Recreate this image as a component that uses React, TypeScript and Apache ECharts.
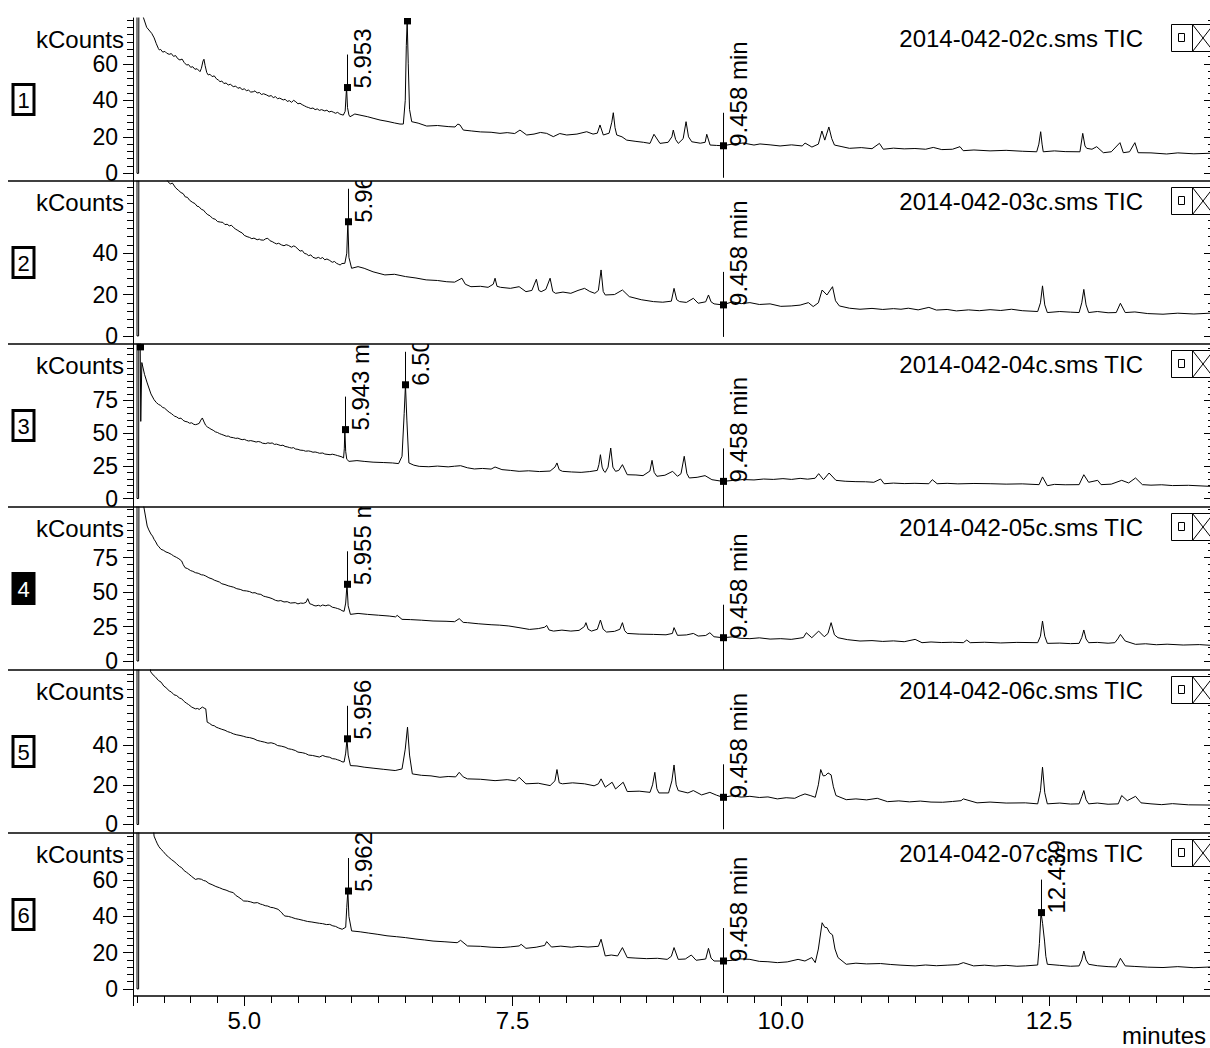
import React, { useEffect, useRef } from "react";
import * as echarts from "echarts";

const FONT = '"Liberation Sans", Arial, Helvetica, sans-serif';

// ---------- data ----------
const sampleTitles = [
  "2014-042-02c.sms TIC",
  "2014-042-03c.sms TIC",
  "2014-042-04c.sms TIC",
  "2014-042-05c.sms TIC",
  "2014-042-06c.sms TIC",
  "2014-042-07c.sms TIC",
];
const panelNumbers = ["1", "2", "3", "4", "5", "6"];
const selectedPanel = 3;

const trace1 = [
  [4.0, 200], [4.0, 0], [4.015, 0], [4.02, 200], [4.04, 110], [4.056, 86], [4.09, 80],
  [4.137, 76.7], [4.16, 74.2], [4.18, 71.0], [4.2, 68.3], [4.208, 67.6], [4.22, 67.9], [4.24, 66.4], [4.26, 66.8], [4.277, 65.8], [4.3, 65.2], [4.32, 65.6], [4.34, 64.1], [4.36, 64.5], [4.38, 62.8], [4.4, 62.1], [4.42, 62.6], [4.44, 60.7], [4.463, 59.3], [4.48, 59.6], [4.5, 58.1], [4.52, 58.4], [4.54, 57.0], [4.56, 57.3], [4.587, 55.7], [4.6, 57.5], [4.615, 61.5], [4.624, 62.5], [4.635, 59], [4.65, 55.2], [4.664, 53.9], [4.68, 54.3], [4.7, 53.0], [4.72, 53.4], [4.74, 51.8], [4.76, 51.0], [4.774, 50.2], [4.79, 50.6], [4.81, 49.2], [4.83, 49.5], [4.85, 48.4], [4.87, 48.8], [4.897, 47.5], [4.92, 47.8], [4.94, 46.6], [4.96, 47.0], [4.98, 45.9], [5.0, 46.3], [5.02, 45.3], [5.04, 45.6], [5.06, 44.5], [5.084, 44.7], [5.1, 45.2], [5.12, 44.0], [5.14, 44.3], [5.16, 43.2], [5.18, 43.6], [5.209, 42.9], [5.23, 42.2], [5.25, 42.6], [5.27, 41.5], [5.29, 42.0], [5.31, 40.9], [5.33, 41.2], [5.363, 40.2], [5.38, 40.6], [5.4, 39.4], [5.42, 39.8], [5.44, 38.9], [5.46, 40.0], [5.48, 39.2], [5.5, 38.1], [5.519, 38.4], [5.54, 37.6], [5.56, 37.0], [5.58, 36.4], [5.6, 36.0], [5.62, 35.5], [5.64, 35.8], [5.66, 34.9], [5.68, 35.3], [5.7, 34.5], [5.72, 34.9], [5.75, 34.2], [5.77, 34.6], [5.79, 33.6], [5.81, 34.0], [5.83, 33.5], [5.85, 32.9], [5.87, 33.4], [5.89, 32.5], [5.91, 32.1], [5.923, 31.9],
  [5.94, 34], [5.953, 47], [5.962, 36], [5.975, 32], [5.985, 31.0], [6.03, 32.5], [6.078, 31.9], [6.15, 31], [6.2, 30.2], [6.265, 29.2], [6.33, 28.5], [6.4, 27.6], [6.451, 27.0], [6.482, 27.0], [6.5, 40], [6.51, 70], [6.518, 83.5], [6.528, 60], [6.54, 35], [6.56, 28.3], [6.62, 27.5], [6.7, 25.9], [6.8, 26.2], [6.9, 25.6], [6.964, 25.4], [6.99, 27], [7.01, 26.5], [7.041, 23.7], [7.12, 23.2], [7.2, 22.7], [7.3, 22.5], [7.383, 21.9], [7.45, 22.3], [7.52, 21.8], [7.569, 23.7], [7.632, 21.0], [7.7, 21.5], [7.76, 22.4], [7.818, 21.9], [7.88, 20.1], [7.94, 21.8], [8.005, 21.0], [8.1, 21.5], [8.191, 22.8], [8.25, 21.5], [8.29, 22], [8.315, 26.5], [8.346, 21.0], [8.4, 22], [8.425, 28], [8.439, 33.2], [8.455, 25], [8.471, 21.0], [8.52, 20], [8.564, 18.2], [8.65, 17.5], [8.72, 17], [8.781, 16.4], [8.818, 21.4], [8.874, 16.4], [8.95, 17], [8.985, 20], [8.998, 23.7], [9.02, 18.5], [9.045, 16.4], [9.09, 19], [9.117, 28.3], [9.14, 20], [9.17, 17.3], [9.25, 16.5], [9.295, 17], [9.31, 21.4], [9.341, 15.5], [9.4, 15.3], [9.458, 15.1], [9.557, 16.1], [9.65, 16.6], [9.75, 15.5], [9.806, 16.1], [9.9, 15.6], [9.993, 15.0], [10.1, 15.6], [10.2, 15.0], [10.226, 16.6], [10.29, 14.4], [10.35, 16], [10.383, 23.2], [10.41, 18.2], [10.448, 25.4], [10.475, 19], [10.5, 15.5], [10.57, 14.6], [10.64, 13.7], [10.75, 14.1], [10.85, 13.5], [10.919, 16.4], [10.955, 13.2], [11.05, 13.8], [11.15, 13.4], [11.25, 13.6], [11.35, 13.2], [11.421, 14.2], [11.5, 13], [11.6, 13.2], [11.67, 14.6], [11.7, 12.4], [11.8, 12.8], [11.95, 12.3], [12.1, 12.6], [12.25, 12.1], [12.385, 11.8], [12.405, 16], [12.422, 22.8], [12.435, 16], [12.446, 11.8], [12.55, 12.3], [12.65, 11.9], [12.788, 11.8], [12.814, 21.9], [12.835, 15], [12.851, 13.7], [12.9, 13.2], [12.944, 14.6], [13.006, 11.3], [13.08, 11.8], [13.161, 16.8], [13.192, 11.3], [13.25, 11.8], [13.3, 16.8], [13.33, 11.3], [13.45, 11.2], [13.596, 10.6], [13.7, 11.2], [13.85, 10.7], [14.0, 11.0],
];

const trace2 = [
  [4.0, 200], [4.0, 0], [4.015, 0], [4.02, 200], [4.15, 95], [4.26, 77],
  [4.288, 74.6], [4.31, 73.5], [4.33, 73.9], [4.36, 71.6], [4.384, 70.5], [4.41, 69.3], [4.43, 68.8], [4.45, 67.2], [4.47, 67.0], [4.49, 65.6], [4.52, 64.5], [4.54, 64.0], [4.56, 62.7], [4.577, 62.5], [4.6, 61.2], [4.62, 60.8], [4.64, 59.5], [4.66, 58.6], [4.68, 58.1], [4.705, 56.8], [4.73, 56.4], [4.75, 55.3], [4.78, 55.0], [4.8, 54.9], [4.82, 53.8], [4.84, 54.0], [4.86, 53.2], [4.88, 53.5], [4.898, 52.5], [4.92, 51.6], [4.94, 51.0], [4.96, 50.3], [4.98, 49.8], [5.0, 48.6], [5.026, 48.0], [5.05, 47.6], [5.07, 47.0], [5.09, 47.3], [5.12, 46.5], [5.14, 46.8], [5.154, 46.4], [5.18, 46.3], [5.2, 47.0], [5.219, 47.2], [5.24, 46.0], [5.26, 45.6], [5.28, 45.0], [5.3, 44.5], [5.32, 44.8], [5.347, 44.0], [5.37, 43.6], [5.39, 44.1], [5.41, 43.8], [5.44, 42.9], [5.46, 43.5], [5.475, 43.2], [5.5, 42.0], [5.52, 41.0], [5.54, 41.3], [5.56, 39.9], [5.58, 39.6], [5.6, 38.8], [5.62, 39.2], [5.64, 38.0], [5.668, 37.5], [5.69, 38.0], [5.71, 37.4], [5.73, 37.9], [5.75, 36.8], [5.77, 37.2], [5.796, 36.5], [5.82, 35.6], [5.84, 36.0], [5.86, 35.1], [5.88, 34.6], [5.893, 34.3], [5.91, 35.0], [5.937, 35.1],
  [5.955, 40], [5.965, 55.2], [5.975, 38], [6.0, 32.7], [6.06, 33.5], [6.117, 32.7], [6.2, 31], [6.31, 29.5], [6.4, 29.8], [6.502, 28.7], [6.6, 28], [6.695, 27.1], [6.8, 26.8], [6.887, 26.2], [6.96, 26], [7.028, 27.9], [7.06, 25], [7.112, 23.8], [7.2, 24], [7.272, 23.5], [7.32, 25], [7.337, 27.9], [7.355, 24], [7.388, 23.5], [7.48, 23], [7.561, 23.8], [7.625, 21.4], [7.68, 22], [7.722, 27.4], [7.745, 22], [7.767, 21.4], [7.81, 22.5], [7.85, 27.9], [7.875, 21.5], [7.901, 20.6], [7.97, 21.2], [8.043, 20.6], [8.11, 22], [8.171, 23.0], [8.22, 21.5], [8.267, 20.6], [8.3, 22], [8.325, 31.9], [8.345, 21.5], [8.364, 19.8], [8.45, 20], [8.524, 22.2], [8.588, 19.0], [8.7, 17.5], [8.813, 16.6], [8.9, 16.3], [8.98, 16.8], [9.005, 23.0], [9.03, 17.5], [9.057, 16.6], [9.12, 16.2], [9.185, 18.2], [9.23, 15.8], [9.3, 16.5], [9.326, 19.8], [9.35, 16.5], [9.378, 15.5], [9.458, 15.0], [9.55, 16.5], [9.63, 15.6], [9.712, 16.1], [9.8, 15.2], [9.9, 15.5], [10.0, 14.3], [10.097, 14.5], [10.18, 14.9], [10.257, 16.1], [10.302, 14.2], [10.35, 16], [10.385, 22.2], [10.43, 19.8], [10.482, 23.8], [10.51, 17], [10.546, 14.5], [10.64, 13.4], [10.738, 12.9], [10.85, 13.3], [10.95, 12.8], [11.05, 13.2], [11.12, 12.9], [11.188, 13.4], [11.28, 12.6], [11.38, 13.8], [11.45, 12.5], [11.55, 12.8], [11.637, 12.1], [11.75, 12.6], [11.85, 12.2], [11.95, 12.7], [12.05, 12.3], [12.15, 12.9], [12.25, 12.2], [12.394, 11.8], [12.42, 16], [12.439, 24.2], [12.46, 15], [12.484, 11.3], [12.6, 11.8], [12.7, 11.5], [12.78, 11.3], [12.805, 16], [12.824, 22.5], [12.845, 15], [12.869, 11.3], [12.95, 11.8], [13.05, 11.2], [13.126, 11.3], [13.165, 15.8], [13.21, 11.3], [13.3, 11.6], [13.42, 10.8], [13.562, 10.5], [13.7, 11], [13.85, 10.6], [14.0, 11.0],
];

const trace3 = [
  [4.0, 300], [4.0, 0], [4.015, 0], [4.02, 300], [4.03, 116], [4.035, 59], [4.045, 104], [4.05, 103.7], [4.07, 95], [4.095, 88.4], [4.13, 80],
  [4.159, 75.6], [4.18, 73.4], [4.2, 72.0], [4.22, 71.2], [4.24, 69.6], [4.256, 69.2], [4.28, 67.4], [4.3, 66.0], [4.32, 65.0], [4.34, 63.6], [4.352, 62.9], [4.37, 62.4], [4.39, 61.2], [4.41, 61.5], [4.43, 59.8], [4.448, 59.0], [4.47, 58.6], [4.49, 57.6], [4.51, 57.9], [4.53, 56.7], [4.545, 56.5], [4.56, 56.8], [4.58, 57.5], [4.595, 60], [4.609, 61.6], [4.625, 58.5], [4.64, 56], [4.655, 54.8], [4.673, 53.9], [4.69, 53.0], [4.71, 52.2], [4.73, 51.0], [4.75, 50.5], [4.77, 49.6], [4.79, 49.0], [4.81, 48.4], [4.833, 47.6], [4.85, 47.8], [4.87, 46.9], [4.9, 46.5], [4.92, 46.0], [4.94, 46.2], [4.96, 45.5], [4.98, 45.0], [5.0, 45.3], [5.02, 44.5], [5.04, 44.0], [5.06, 44.3], [5.09, 43.7], [5.11, 43.2], [5.13, 43.6], [5.15, 43.2], [5.17, 42.3], [5.2, 42.0], [5.22, 42.6], [5.24, 42.2], [5.26, 42.5], [5.28, 41.4], [5.3, 41.6], [5.315, 41.2], [5.34, 40.5], [5.36, 40.8], [5.38, 39.8], [5.4, 39.5], [5.42, 39.0], [5.44, 38.6], [5.46, 38.9], [5.475, 37.9], [5.5, 37.6], [5.52, 37.0], [5.55, 36.8], [5.57, 36.2], [5.6, 36.4], [5.62, 36.0], [5.64, 35.4], [5.66, 35.6], [5.68, 35.2], [5.7, 34.6], [5.732, 34.8], [5.75, 34.0], [5.78, 33.7], [5.8, 33.5], [5.82, 33.9], [5.85, 33.3], [5.87, 32.8], [5.892, 32.3], [5.91, 31.8], [5.925, 31],
  [5.932, 38], [5.937, 52.7], [5.945, 36], [5.955, 30], [5.976, 28.4], [6.05, 29], [6.117, 28.4], [6.2, 27.8], [6.3, 27.5], [6.38, 27.2], [6.438, 26.7], [6.47, 32.3], [6.49, 65], [6.502, 87], [6.515, 60], [6.534, 27.2], [6.58, 25.5], [6.63, 24.6], [6.72, 24.3], [6.8, 24.8], [6.9, 24.2], [6.96, 24.7], [7.016, 25.1], [7.08, 23.5], [7.144, 22.6], [7.22, 23], [7.3, 22.5], [7.337, 24.1], [7.401, 22.1], [7.48, 21.5], [7.561, 20.8], [7.65, 21.2], [7.75, 20.6], [7.85, 21], [7.895, 24], [7.914, 27.2], [7.935, 22], [7.965, 20.8], [8.05, 20.3], [8.139, 20.0], [8.22, 20.6], [8.29, 21.5], [8.305, 26], [8.319, 33.5], [8.335, 24], [8.35, 21], [8.364, 20.0], [8.39, 24], [8.415, 38.6], [8.435, 24], [8.46, 20.8], [8.49, 21.5], [8.524, 25.9], [8.569, 18.2], [8.65, 18], [8.716, 17.5], [8.78, 21], [8.8, 29.2], [8.82, 20], [8.845, 17.0], [8.92, 17.8], [8.992, 20.8], [9.037, 17.0], [9.07, 19], [9.1, 32.3], [9.125, 19], [9.147, 15.7], [9.22, 16.2], [9.294, 17.5], [9.358, 14.4], [9.458, 13.1], [9.55, 13.8], [9.65, 14.5], [9.75, 14.2], [9.84, 14.9], [9.93, 14.6], [10.02, 15.2], [10.1, 14.6], [10.18, 15.4], [10.25, 14.8], [10.32, 15.5], [10.353, 19.0], [10.398, 14.4], [10.45, 19.5], [10.514, 13.9], [10.6, 13.2], [10.7, 12.9], [10.79, 12.8], [10.867, 12.4], [10.93, 14.9], [10.963, 11.3], [11.05, 11.8], [11.15, 11.4], [11.25, 11.6], [11.38, 11.3], [11.412, 14.4], [11.457, 11.3], [11.55, 11.6], [11.65, 11.2], [11.8, 11.5], [11.958, 11.3], [12.1, 11.0], [12.25, 11.2], [12.407, 10.6], [12.439, 16.5], [12.484, 9.8], [12.55, 10.8], [12.65, 10.5], [12.78, 10.6], [12.824, 18.2], [12.869, 12.4], [12.953, 13.9], [12.985, 10.6], [13.08, 11.0], [13.177, 13.9], [13.242, 11.9], [13.306, 15.7], [13.37, 10.6], [13.45, 10.2], [13.55, 10.5], [13.65, 9.9], [13.8, 10.1], [14.0, 9.3],
];

const trace4 = [
  [4.0, 200], [4.0, 0], [4.015, 0], [4.02, 200], [4.063, 112],
  [4.095, 97.8], [4.11, 95], [4.13, 92], [4.145, 90.5], [4.159, 88.2], [4.175, 86.3], [4.19, 84], [4.205, 82.7], [4.224, 80.9], [4.245, 80.3], [4.27, 79], [4.29, 78.5], [4.32, 77.3], [4.34, 76.2], [4.37, 75], [4.39, 74.1], [4.416, 72.5], [4.43, 70.0], [4.448, 67.6], [4.47, 67.0], [4.5, 65.5], [4.52, 65.0], [4.545, 64.0], [4.57, 63.6], [4.6, 62.5], [4.62, 62.3], [4.641, 61.6], [4.67, 60.3], [4.7, 59.5], [4.72, 58.6], [4.745, 57.9], [4.769, 57.2], [4.79, 56.0], [4.82, 55.4], [4.85, 54.5], [4.875, 54.0], [4.9, 53.5], [4.93, 52.4], [4.962, 51.9], [4.99, 51.0], [5.02, 50.8], [5.05, 50.3], [5.075, 49.4], [5.1, 49.5], [5.125, 48.6], [5.154, 48.3], [5.18, 47.0], [5.2, 46.6], [5.23, 46.0], [5.26, 45.2], [5.29, 44.0], [5.315, 43.5], [5.34, 43.8], [5.37, 42.8], [5.4, 43.0], [5.43, 42.0], [5.475, 42.3], [5.5, 41.4], [5.525, 42.0], [5.55, 41.8], [5.575, 42.5], [5.591, 45.2], [5.61, 41.5], [5.63, 41.0], [5.65, 40.2], [5.668, 39.9], [5.69, 40.4], [5.71, 39.8], [5.73, 40.6], [5.76, 40.0], [5.78, 40.6], [5.796, 40.3], [5.82, 39.0], [5.85, 38.5], [5.87, 38.0], [5.893, 37.4], [5.91, 36.5], [5.93, 36],
  [5.945, 42], [5.957, 55.6], [5.968, 40], [5.989, 33.8], [6.06, 34.5], [6.149, 33.8], [6.25, 33.2], [6.35, 32.6], [6.41, 32], [6.425, 33.1], [6.47, 30.2], [6.55, 30], [6.65, 29.6], [6.759, 29.0], [6.88, 28.8], [6.96, 28.5], [7.003, 30.7], [7.04, 28], [7.08, 27.8], [7.18, 27], [7.3, 26.3], [7.38, 26], [7.465, 25.4], [7.56, 24.2], [7.658, 22.9], [7.74, 23.5], [7.8, 24.5], [7.818, 25.8], [7.84, 22.5], [7.882, 21.7], [7.96, 22.4], [8.043, 21.7], [8.12, 22.2], [8.17, 25], [8.184, 27.8], [8.205, 23], [8.235, 21.7], [8.29, 23], [8.319, 29.7], [8.345, 23], [8.376, 21.0], [8.45, 21.5], [8.5, 23], [8.524, 27.8], [8.545, 22], [8.569, 20.0], [8.68, 19.5], [8.813, 19.3], [8.93, 19], [8.99, 20], [9.005, 24.2], [9.037, 18.6], [9.12, 18.9], [9.185, 20.0], [9.23, 18.1], [9.3, 18.5], [9.339, 20.5], [9.378, 17.6], [9.458, 16.9], [9.55, 17.5], [9.62, 16.5], [9.712, 16.2], [9.8, 16.8], [9.9, 15.9], [10.0, 16.2], [10.097, 15.7], [10.17, 16.5], [10.21, 17], [10.238, 20.5], [10.289, 16.9], [10.353, 21.7], [10.405, 17.6], [10.44, 20], [10.469, 27.8], [10.5, 19], [10.533, 16.9], [10.62, 15.5], [10.738, 14.5], [10.85, 14.8], [10.95, 14.2], [11.05, 14.6], [11.15, 14.0], [11.252, 15.7], [11.316, 13.3], [11.4, 13.8], [11.5, 13.4], [11.6, 13.6], [11.701, 13.3], [11.733, 15.2], [11.765, 13.3], [11.9, 13.6], [12.05, 13.1], [12.2, 13.5], [12.394, 13.3], [12.42, 18], [12.439, 29.0], [12.46, 18], [12.484, 12.8], [12.6, 13], [12.7, 12.6], [12.78, 12.8], [12.805, 17], [12.824, 22.5], [12.845, 16], [12.869, 13.3], [12.95, 13.5], [13.05, 12.9], [13.113, 13.3], [13.14, 16], [13.165, 19.3], [13.21, 14.5], [13.306, 12.1], [13.4, 12.5], [13.5, 11.8], [13.6, 12.2], [13.75, 11.6], [13.9, 11.9], [14.0, 11.4],
];

const trace5 = [
  [4.0, 200], [4.0, 0], [4.015, 0], [4.02, 200],
  [4.127, 77], [4.15, 75.4], [4.17, 74.5], [4.2, 72.6], [4.224, 71.8], [4.25, 69.8], [4.27, 69], [4.3, 67.4], [4.32, 66.8], [4.345, 65.4], [4.37, 65], [4.395, 63.8], [4.416, 63.4], [4.44, 62.0], [4.46, 61.2], [4.48, 60.5], [4.51, 59.2], [4.545, 58.3], [4.565, 58.5], [4.58, 58], [4.609, 59.2], [4.625, 58.7], [4.641, 58.3], [4.654, 51.6], [4.675, 51.0], [4.7, 50], [4.72, 49.8], [4.737, 49.1], [4.76, 48.6], [4.79, 48.0], [4.82, 47.5], [4.845, 46.8], [4.87, 46.4], [4.898, 45.7], [4.93, 45.2], [4.96, 44.9], [4.99, 44.5], [5.02, 44.0], [5.05, 43.8], [5.09, 43.2], [5.12, 42.4], [5.15, 42.0], [5.19, 41.5], [5.22, 41.0], [5.25, 41.2], [5.283, 40.7], [5.31, 39.8], [5.345, 39.5], [5.38, 39], [5.41, 38.2], [5.44, 37.9], [5.475, 37.3], [5.5, 36.5], [5.54, 36.2], [5.57, 35.8], [5.6, 35.0], [5.635, 34.8], [5.668, 34.4], [5.7, 34.0], [5.73, 34.8], [5.76, 34.2], [5.796, 33.9], [5.82, 33.2], [5.85, 33], [5.87, 32.6], [5.893, 32.2], [5.91, 31.6], [5.93, 31.5],
  [5.945, 36], [5.957, 43.2], [5.968, 35], [5.989, 29.7], [6.05, 29.5], [6.117, 28.9], [6.2, 28.4], [6.3, 27.8], [6.406, 27.2], [6.47, 28.0], [6.5, 38], [6.521, 49.1], [6.54, 35], [6.566, 25.5], [6.65, 24.8], [6.74, 24.5], [6.823, 23.8], [6.9, 24.2], [6.97, 24], [7.003, 26.3], [7.04, 24], [7.08, 23.0], [7.2, 22.8], [7.337, 22.1], [7.45, 22.6], [7.53, 22], [7.561, 23.8], [7.625, 20.5], [7.74, 20.8], [7.85, 19.6], [7.895, 22], [7.914, 27.7], [7.935, 21], [7.965, 20.5], [8.06, 21], [8.171, 20.5], [8.26, 19.5], [8.3, 20.5], [8.325, 23.0], [8.364, 18.8], [8.428, 21.3], [8.46, 17.9], [8.531, 21.3], [8.569, 16.6], [8.68, 16.8], [8.781, 16.2], [8.805, 20], [8.826, 26.3], [8.845, 18], [8.864, 15.9], [8.954, 15.9], [8.985, 22], [9.005, 30.0], [9.025, 20], [9.044, 17.1], [9.134, 15.9], [9.185, 17.1], [9.262, 14.9], [9.339, 16.2], [9.4, 14.8], [9.458, 13.7], [9.55, 14.5], [9.63, 13.8], [9.712, 14.2], [9.8, 13.6], [9.88, 13.9], [9.968, 12.9], [10.05, 13.5], [10.13, 13.2], [10.18, 14.5], [10.225, 15.4], [10.28, 14.5], [10.321, 13.7], [10.35, 20], [10.372, 27.7], [10.395, 24.5], [10.417, 24.7], [10.44, 26], [10.469, 25.0], [10.49, 19], [10.514, 14.6], [10.61, 12.5], [10.7, 12.9], [10.8, 12.4], [10.899, 13.2], [10.995, 11.5], [11.1, 11.9], [11.2, 11.4], [11.3, 11.8], [11.4, 11.3], [11.509, 11.2], [11.6, 11.6], [11.68, 12], [11.701, 12.9], [11.829, 10.9], [11.95, 11.3], [12.1, 10.8], [12.279, 10.9], [12.394, 10.4], [12.42, 17], [12.439, 28.9], [12.46, 16], [12.484, 10.4], [12.6, 10.8], [12.7, 10.3], [12.78, 10.4], [12.805, 14], [12.824, 17.1], [12.845, 12.5], [12.869, 10.4], [12.95, 10.8], [13.05, 10.2], [13.145, 10.4], [13.177, 14.6], [13.229, 12.0], [13.306, 14.2], [13.357, 10.9], [13.45, 10.4], [13.55, 10.0], [13.65, 10.5], [13.8, 9.9], [14.0, 9.8],
];

const trace6 = [
  [4.0, 200], [4.0, 0], [4.015, 0], [4.02, 200],
  [4.159, 84.3], [4.175, 82.0], [4.19, 80], [4.205, 78.4], [4.224, 77.0], [4.245, 75.8], [4.27, 74], [4.295, 72.7], [4.32, 71.4], [4.345, 70.3], [4.37, 69], [4.395, 67.6], [4.416, 66.9], [4.44, 65.2], [4.46, 64.4], [4.48, 63.5], [4.51, 62.0], [4.545, 60.4], [4.57, 60.8], [4.6, 60.5], [4.62, 59.8], [4.641, 59.5], [4.67, 58.2], [4.7, 57.5], [4.735, 56.5], [4.769, 55.8], [4.8, 55.0], [4.83, 54.5], [4.865, 53.6], [4.898, 53.1], [4.92, 51.6], [4.95, 50.5], [4.975, 49.4], [4.994, 48.5], [5.03, 48.4], [5.06, 48], [5.09, 47.4], [5.122, 47.6], [5.15, 46.8], [5.17, 46.5], [5.195, 45.9], [5.219, 45.7], [5.245, 45.0], [5.27, 44.8], [5.295, 44.3], [5.315, 43.9], [5.335, 42.8], [5.35, 42], [5.365, 40.8], [5.379, 40.2], [5.41, 40.0], [5.44, 39.5], [5.475, 38.8], [5.508, 38.4], [5.55, 37.8], [5.59, 37.2], [5.63, 36.9], [5.668, 36.5], [5.7, 36.2], [5.73, 36], [5.765, 35.5], [5.796, 35.6], [5.825, 34.8], [5.85, 34.5], [5.88, 33.6], [5.912, 32.9],
  [5.945, 34], [5.955, 45], [5.965, 54.0], [5.975, 40], [6.0, 32.0], [6.08, 31.5], [6.16, 30.8], [6.245, 30.1], [6.33, 29.3], [6.42, 28.8], [6.502, 28.3], [6.6, 27.5], [6.68, 27], [6.759, 26.4], [6.87, 26], [6.984, 25.5], [7.016, 26.8], [7.08, 23.7], [7.2, 23.5], [7.3, 23], [7.401, 22.8], [7.48, 23.2], [7.561, 23.7], [7.58, 24.6], [7.625, 22.4], [7.72, 23], [7.8, 24], [7.818, 26.1], [7.863, 23.1], [7.95, 23.6], [8.05, 23], [8.12, 23.5], [8.203, 23.1], [8.3, 23.5], [8.325, 27.4], [8.364, 18.2], [8.42, 18.7], [8.479, 18.2], [8.524, 22.8], [8.569, 17.3], [8.65, 17], [8.75, 16.7], [8.85, 16.9], [8.941, 16.3], [8.98, 18], [9.005, 22.8], [9.044, 16.3], [9.11, 16.5], [9.166, 18.7], [9.211, 15.8], [9.3, 16.5], [9.326, 22.4], [9.35, 17], [9.378, 15.4], [9.458, 15.4], [9.55, 15.8], [9.62, 16.6], [9.712, 16.3], [9.8, 15.2], [9.88, 15.0], [9.968, 14.5], [10.06, 14.9], [10.161, 16.3], [10.225, 15.4], [10.289, 17.3], [10.321, 14.5], [10.35, 22], [10.385, 36.5], [10.41, 34], [10.43, 33.8], [10.455, 31], [10.482, 29.8], [10.505, 22], [10.533, 17.3], [10.61, 13.6], [10.7, 14.2], [10.8, 13.8], [10.93, 14.0], [11.02, 13.5], [11.12, 13.1], [11.252, 12.7], [11.35, 13.2], [11.45, 12.8], [11.55, 13.1], [11.65, 13.4], [11.701, 14.5], [11.797, 12.7], [11.9, 13.1], [12.0, 12.6], [12.1, 13.0], [12.2, 12.5], [12.279, 12.7], [12.394, 13.2], [12.41, 25], [12.425, 42.1], [12.44, 36], [12.458, 26.4], [12.47, 18], [12.484, 13.6], [12.6, 13], [12.7, 12.5], [12.78, 12.7], [12.805, 16], [12.824, 20.9], [12.845, 16], [12.869, 13.6], [12.95, 12.8], [13.05, 12.3], [13.126, 12.1], [13.165, 16.9], [13.21, 12.7], [13.3, 12.4], [13.42, 12.0], [13.562, 11.8], [13.7, 12.3], [13.85, 11.7], [14.0, 12.1],
];

const traces = [trace1, trace2, trace3, trace4, trace5, trace6];

// axis ranges (kCounts)
const yMins = [-4.2, -3.9, -6.5, -6.5, -4.3, -3.9];
const yMaxs = [85.1, 74.9, 118.2, 111.6, 77.9, 86.0];
const yTickLabels = [
  [0, 20, 40, 60],
  [0, 20, 40],
  [0, 25, 50, 75],
  [0, 25, 50, 75],
  [0, 20, 40],
  [0, 20, 40, 60],
];
const yMinorSteps = [4, 4, 5, 5, 4, 4];
const xMin = 4.0;
const xMax = 14.0;
const xTickLabels = [5.0, 7.5, 10.0, 12.5];
const xMinorStep = 0.25;

// peak annotations
const peakTimes = [[5.953, 6.518], [5.965], [4.03, 5.937, 6.502], [5.957], [5.957], [5.965, 12.425]];
const peakHeights = [[47, 83.5], [55.2], [116, 52.7, 87], [55.6], [43.2], [54.0, 42.1]];
const peakLabels = [
  ["5.953", ""],
  ["5.965 min"],
  ["", "5.943 min", "6.502 min"],
  ["5.955 min"],
  ["5.956"],
  ["5.962", "12.439"],
];
const cursorTime = 9.458;
const cursorHeights = [15.1, 15.0, 13.1, 16.9, 13.7, 15.4];
const cursorLabel = "9.458 min";

// ---------- layout ----------
const W = 1210;
const H = 1048;
const GRID_LEFT = 137;
const PANEL_TOP = 18;
const PANEL_H = 163;

function buildOption() {
  const grid: any[] = [];
  const xAxis: any[] = [];
  const yAxis: any[] = [];
  const series: any[] = [];
  const graphic: any[] = [];
  const tickStyle = { color: "#000", width: 1 };

  for (let k = 0; k < 6; k++) {
    const top = PANEL_TOP + k * PANEL_H;
    grid.push({ left: GRID_LEFT, right: 0, top, height: PANEL_H });

    const xi = xAxis.length;
    xAxis.push({
      gridIndex: k,
      type: "value",
      position: "bottom",
      min: xMin,
      max: xMax,
      axisLine: { show: false, onZero: false },
      splitLine: { show: false },
      axisTick: { show: false },
      axisLabel: { show: false },
    });

    const minorY: number[] = [];
    for (let i = 0; i * yMinorSteps[k] <= yMaxs[k]; i++) minorY.push(i * yMinorSteps[k]);
    const base = { gridIndex: k, type: "value", min: yMins[k], max: yMaxs[k], splitLine: { show: false } };
    const yi = yAxis.length;
    yAxis.push({
      ...base,
      position: "left",
      offset: 4,
      axisLine: { show: true, onZero: false, lineStyle: { color: "#000", width: 1 } },
      axisTick: { customValues: minorY, length: 6, lineStyle: tickStyle },
      axisLabel: { customValues: yTickLabels[k], margin: 15, color: "#000", fontSize: 23, fontFamily: FONT },
    });
    yAxis.push({
      ...base,
      position: "left",
      offset: 4,
      axisLine: { show: false, onZero: false },
      axisTick: { customValues: yTickLabels[k], length: 10, lineStyle: tickStyle },
      axisLabel: { show: false },
    });
    yAxis.push({
      ...base,
      position: "right",
      axisLine: { show: false, onZero: false },
      axisTick: { inside: true, customValues: yTickLabels[k], length: 6, lineStyle: tickStyle },
      axisLabel: { show: false },
    });
    yAxis.push({
      ...base,
      position: "right",
      axisLine: { show: false, onZero: false },
      axisTick: { inside: true, customValues: minorY, length: 2, lineStyle: tickStyle },
      axisLabel: { show: false },
    });

    series.push({
      type: "line",
      xAxisIndex: xi,
      yAxisIndex: yi,
      data: traces[k],
      symbol: "none",
      showSymbol: false,
      clip: true,
      silent: true,
      lineStyle: { color: "#000", width: 1 },
      z: 2,
    });

    const annData = peakTimes[k].map((t, i) => [t, peakHeights[k][i], 0]);
    annData.push([cursorTime, cursorHeights[k], 1]);
    const annLabels = [...peakLabels[k], cursorLabel];
    series.push({
      type: "custom",
      xAxisIndex: xi,
      yAxisIndex: yi,
      data: annData,
      encode: { x: 0, y: 1 },
      clip: true,
      silent: true,
      z: 5,
      renderItem: (params: any, api: any) => {
        const t = api.value(0);
        const v = api.value(1);
        const kind = api.value(2);
        const p = api.coord([t, v]);
        const px = Math.round(p[0]) + 0.5;
        const label = annLabels[params.dataIndex];
        const children: any[] = [
          {
            type: "line",
            shape: { x1: px, y1: p[1] - 33, x2: px, y2: kind === 1 ? p[1] + 32 : p[1] },
            style: { stroke: "#000", lineWidth: 1 },
          },
          {
            type: "rect",
            shape: { x: px - 3.5, y: p[1] - 3.5, width: 7, height: 7 },
            style: { fill: "#000" },
          },
        ];
        if (label) {
          children.push({
            type: "text",
            x: px + 15,
            y: p[1] + 1,
            rotation: Math.PI / 2,
            style: {
              text: label,
              fill: "#000",
              font: `24px ${FONT}`,
              textAlign: "left",
              textVerticalAlign: "middle",
            },
          });
        }
        return { type: "group", children };
      },
    });

    // decorations per panel
    if (k < 5) {
      graphic.push({
        type: "line",
        shape: { x1: 8, y1: top + PANEL_H, x2: W, y2: top + PANEL_H },
        style: { stroke: "#000", lineWidth: 1.5 },
        z: 10,
      });
    }
    const cy = top + PANEL_H / 2;
    const sel = k === selectedPanel;
    graphic.push({
      type: "rect",
      shape: { x: 13, y: cy - 15, width: 21, height: 30 },
      style: { fill: sel ? "#000" : "#fff", stroke: "#000", lineWidth: 3 },
      z: 10,
    });
    graphic.push({
      type: "text",
      x: 23.5,
      y: cy + 1,
      style: {
        text: panelNumbers[k],
        fill: sel ? "#fff" : "#000",
        font: `22px ${FONT}`,
        textAlign: "center",
        textVerticalAlign: "middle",
      },
      z: 11,
    });
    graphic.push({
      type: "text",
      x: 124,
      y: top + 21,
      style: { text: "kCounts", fill: "#000", font: `24px ${FONT}`, textAlign: "right", textVerticalAlign: "middle" },
      z: 10,
    });
    graphic.push({
      type: "text",
      x: 1143,
      y: top + 20,
      style: { text: sampleTitles[k], fill: "#000", font: `24px ${FONT}`, textAlign: "right", textVerticalAlign: "middle" },
      z: 10,
    });
    // window icons
    graphic.push({
      type: "rect",
      shape: { x: 1171.5, y: top + 6.5, width: 21, height: 27 },
      style: { fill: "#fff", stroke: "#000", lineWidth: 1 },
      z: 10,
    });
    graphic.push({
      type: "rect",
      shape: { x: 1178.5, y: top + 15.5, width: 6, height: 8 },
      style: { fill: "#fff", stroke: "#000", lineWidth: 1 },
      z: 11,
    });
    graphic.push({
      type: "rect",
      shape: { x: 1192.5, y: top + 6.5, width: 21, height: 27 },
      style: { fill: "#fff", stroke: "#000", lineWidth: 1 },
      z: 10,
    });
    graphic.push({
      type: "line",
      shape: { x1: 1192.5, y1: top + 6.5, x2: 1213.5, y2: top + 33.5 },
      style: { stroke: "#000", lineWidth: 1 },
      z: 11,
    });
    graphic.push({
      type: "line",
      shape: { x1: 1213.5, y1: top + 6.5, x2: 1192.5, y2: top + 33.5 },
      style: { stroke: "#000", lineWidth: 1 },
      z: 11,
    });
  }

  // shared time axis (own thin grid at the bottom of the stack)
  const bottom = PANEL_TOP + 6 * PANEL_H;
  const axisGrid = grid.length;
  grid.push({ left: GRID_LEFT, right: 0, top: bottom - 4, height: 4 });
  yAxis.push({ gridIndex: axisGrid, type: "value", min: 0, max: 1, show: false });
  const minors: number[] = [];
  for (let i = 0; xMin + i * xMinorStep <= xMax + 1e-6; i++) minors.push(+(xMin + i * xMinorStep).toFixed(2));
  xAxis.push({
    gridIndex: axisGrid,
    type: "value",
    position: "bottom",
    min: xMin,
    max: xMax,
    axisLine: { show: false, onZero: false },
    splitLine: { show: false },
    axisTick: { customValues: xTickLabels, length: 10, lineStyle: tickStyle },
    axisLabel: {
      customValues: xTickLabels,
      formatter: (v: number) => v.toFixed(1),
      margin: 12,
      color: "#000",
      fontSize: 24,
      fontFamily: FONT,
    },
  });
  xAxis.push({
    gridIndex: axisGrid,
    type: "value",
    position: "bottom",
    min: xMin,
    max: xMax,
    axisLine: { show: false, onZero: false },
    splitLine: { show: false },
    axisTick: { customValues: minors, length: 7, lineStyle: tickStyle },
    axisLabel: { show: false },
  });

  graphic.push({
    type: "line",
    shape: { x1: 133, y1: bottom, x2: W, y2: bottom },
    style: { stroke: "#000", lineWidth: 1.5 },
    z: 10,
  });
  graphic.push({
    type: "line",
    shape: { x1: 133.5, y1: bottom, x2: 133.5, y2: bottom + 10 },
    style: { stroke: "#000", lineWidth: 1 },
    z: 10,
  });
  graphic.push({
    type: "text",
    x: 1206,
    y: 1047,
    style: { text: "minutes", fill: "#000", font: `24px ${FONT}`, textAlign: "right", textVerticalAlign: "bottom" },
    z: 10,
  });

  return {
    animation: false,
    backgroundColor: "#fff",
    grid,
    xAxis,
    yAxis,
    series,
    graphic,
  };
}

export default function App() {
  const ref = useRef<HTMLDivElement>(null);
  useEffect(() => {
    if (!ref.current) return;
    const chart = echarts.init(ref.current, null, { renderer: "svg" });
    chart.setOption(buildOption() as any);
    return () => {
      chart.dispose();
    };
  }, []);
  return (
    <div
      ref={ref}
      style={{ position: "absolute", left: 0, top: 0, width: W, height: H, background: "#fff" }}
    />
  );
}
